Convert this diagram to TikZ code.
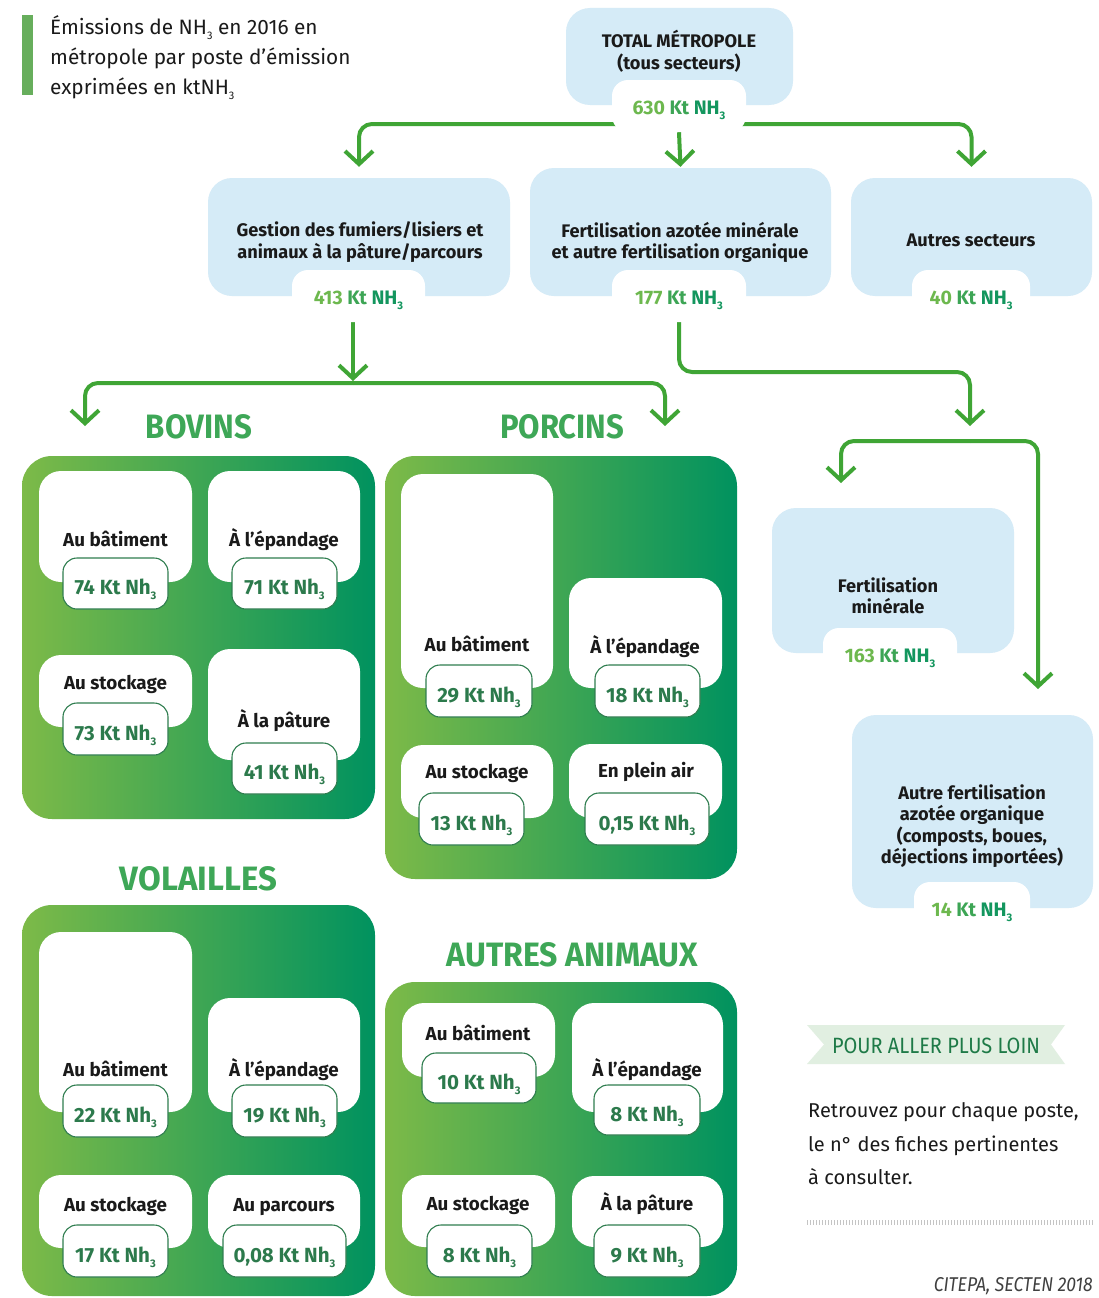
\documentclass[tikz,border=0pt]{standalone}
\usepackage{graphicx}
\usepackage{fontspec}
\setmainfont{Fira Sans}
\newfontfamily\firamed{Fira Sans}
\newfontfamily\firalight{Fira Sans}
\usetikzlibrary{arrows.meta,backgrounds}

\definecolor{boxblue}{HTML}{D5EBF7}
\definecolor{gL}{HTML}{7DBA48}
\definecolor{gR}{HTML}{00925F}
\definecolor{conng}{HTML}{3FA535}
\definecolor{tabline}{HTML}{2F7D4F}
\definecolor{valdk}{HTML}{2C7A4C}
\definecolor{vl}{HTML}{6DB84E}
\definecolor{vm}{HTML}{3DA555}
\definecolor{vd}{HTML}{13965E}
\definecolor{headg}{HTML}{3EA757}
\definecolor{barg}{HTML}{67AE5C}
\definecolor{ribbon}{HTML}{E1EFE1}
\definecolor{ribtxt}{HTML}{1E7A47}
\definecolor{txt}{HTML}{1A1A1A}
\definecolor{ticks}{HTML}{C4C4C4}

\newcommand\subs{\raisebox{-5pt}{\fontsize{11}{11}\selectfont 3}}
\newcommand\kt[1]{#1 Kt Nh\subs}
\newcommand\bval[1]{\textcolor{vl}{#1} \textcolor{vm}{Kt} \textcolor{vd}{NH\subs}}

\tikzset{
  bluebox/.style={fill=boxblue, rounded corners=24pt, inner sep=0pt},
  bluetab/.style={fill=white, rounded corners=16pt, inner sep=0pt, text height=16pt, text depth=0pt,
    font=\fontsize{19.5}{20}\selectfont\bfseries},
  bluetxt/.style={align=center, text=txt, font=\fontsize{18.2}{21.5}\selectfont\bfseries, inner sep=0pt},
  panel/.style={left color=gL, right color=gR, rounded corners=30pt, inner sep=0pt},
  cardbox/.style={fill=white, rounded corners=22pt, inner sep=0pt},
  cardtxt/.style={text=txt, font=\fontsize{18.8}{20}\selectfont\bfseries, inner sep=0pt},
  valtab/.style={fill=white, draw=tabline, line width=1.1pt, rounded corners=14pt, inner sep=0pt,
    text=valdk, text height=22pt, text depth=0pt, font=\fontsize{20.5}{20}\selectfont\bfseries},
  conn/.style={draw=conng, line width=4pt, rounded corners=13pt, -{Straight Barb[length=13pt,width=28pt]}},
  heading/.style={text=headg, inner sep=0pt},
}

% style, x1, y1, x2, y2, name
\newcommand\rect[6]{\node[#1, minimum width={#4-#2}, minimum height={#5-#3}] (#6) at ({(#2+#4)/2},{(#3+#5)/2}) {};}
% style, x1, y1, x2, y2, name, text
\newcommand\rectt[7]{\node[#1, minimum width={#4-#2}, minimum height={#5-#3}] (#6) at ({(#2+#4)/2},{(#3+#5)/2}) {#7};}
% name, x1, y1, x2, y2, label, lx, baseline
\newcommand\card[8]{\rect{cardbox}{#2}{#3}{#4}{#5}{#1}\node[cardtxt, anchor=base] (#1l) at (#7,#8) {#6};}
% name, x1, y1, x2, y2, value
\newcommand\vtab[6]{\rectt{valtab}{#2}{#3}{#4}{#5}{#1}{\kt{#6}}}

\begin{document}
\begin{tikzpicture}[x=1pt,y=-1pt]
\useasboundingbox (0,0) rectangle (1098,1298);
\begin{pgfonlayer}{background}
\fill[white] (0,0) rectangle (1098,1298);
\end{pgfonlayer}

% title
\fill[barg] (22,15) rectangle (33,95);
\node[anchor=west, align=left, text=txt, font=\firamed\fontsize{20.8}{30}\selectfont, inner sep=0pt] (title) at (50,57.5)
  {Émissions de NH\subs{} en 2016 en\\métropole par poste d’émission\\exprimées en ktNH\subs};

% blue boxes
\rect{bluebox}{566}{8}{793}{105}{top}
\node[bluetxt] (topl) at (679,51) {TOTAL MÉTROPOLE\\(tous secteurs)};
\rectt{bluetab}{612}{80}{746}{132}{toptab}{\bval{630}}

\rect{bluebox}{208}{178}{510}{296}{gest}
\node[bluetxt] (gestl) at (360,242) {Gestion des fumiers/lisiers et\\animaux à la pâture/parcours};
\rectt{bluetab}{292}{270}{425}{322}{gtab}{\bval{413}}

\rect{bluebox}{530}{168}{831}{296}{fert}
\node[bluetxt] (fertl) at (680,242.5) {Fertilisation azotée minérale\\et autre fertilisation organique};
\rectt{bluetab}{612}{270}{746}{322}{ftab}{\bval{177}}

\rect{bluebox}{851}{178}{1092}{296}{autsec}
\node[bluetxt, anchor=base] (autsecl) at (971,246) {Autres secteurs};
\rectt{bluetab}{912}{270}{1030}{322}{stab}{\bval{40}}

\rect{bluebox}{772}{508}{1014}{653}{fmin}
\node[bluetxt] (fminl) at (888,596) {Fertilisation\\minérale};
\rectt{bluetab}{823}{628}{957}{680}{mtab}{\bval{163}}

\rect{bluebox}{852}{715}{1093}{908}{forg}
\node[bluetxt] (forgl) at (972,826) {Autre fertilisation\\azotée organique\\(composts, boues,\\déjections importées)};
\rectt{bluetab}{914}{882}{1030}{934}{otab}{\bval{14}}

% headings
\node[heading] (hbov) at (199,427) {\resizebox{106pt}{24pt}{\bfseries BOVINS}};
\node[heading] (hpor) at (562,427) {\resizebox{124pt}{24pt}{\bfseries PORCINS}};
\node[heading] (hvol) at (198.5,879) {\resizebox{157pt}{24pt}{\bfseries VOLAILLES}};
\node[heading] (haut) at (572.5,955) {\resizebox{251pt}{24pt}{\bfseries AUTRES ANIMAUX}};

% panels
\rect{panel}{22}{456}{375}{819}{bov}
\rect{panel}{385}{456}{737}{879}{por}
\rect{panel}{22}{905}{375}{1296}{vol}
\rect{panel}{385}{982}{737}{1296}{aut}

% BOVINS
\card{b1}{39}{471}{192}{582}{Au bâtiment}{115.5}{546}
\card{b2}{208}{471}{360}{582}{À l’épandage}{284}{546}
\card{b3}{39}{655}{192}{727}{Au stockage}{115.5}{689}
\card{b4}{208}{649}{360}{760}{À la pâture}{284}{727.5}
\vtab{b1v}{63}{558}{168}{609}{74}
\vtab{b2v}{232}{558}{337}{609}{71}
\vtab{b3v}{63}{703}{168}{755}{73}
\vtab{b4v}{232}{743}{337}{794}{41}

% PORCINS
\card{p1}{401}{474}{553}{688}{Au bâtiment}{477}{651.5}
\card{p2}{569}{578}{722}{688}{À l’épandage}{645}{653}
\card{p3}{401}{745}{553}{818}{Au stockage}{477}{778}
\card{p4}{569}{744}{722}{818}{En plein air}{646}{777}
\vtab{p1v}{426}{665}{532}{717}{29}
\vtab{p2v}{595}{665}{700}{717}{18}
\vtab{p3v}{419}{793}{524}{845}{13}
\vtab{p4v}{585}{793}{709}{845}{0,15}

% VOLAILLES
\card{v1}{39}{932}{192}{1112}{Au bâtiment}{115.5}{1076}
\card{v2}{208}{998}{360}{1112}{À l’épandage}{284}{1076}
\card{v3}{39}{1175}{192}{1248}{Au stockage}{115.5}{1211}
\card{v4}{208}{1175}{360}{1248}{Au parcours}{284}{1211}
\vtab{v1v}{63}{1085}{168}{1137}{22}
\vtab{v2v}{232}{1085}{337}{1137}{19}
\vtab{v3v}{63}{1225}{168}{1277}{17}
\vtab{v4v}{223}{1225}{346}{1277}{0,08}

% AUTRES ANIMAUX
\card{a1}{402}{1003}{555}{1077}{Au bâtiment}{478}{1040}
\card{a2}{572}{1003}{723}{1112}{À l’épandage}{647}{1076.5}
\card{a3}{402}{1175}{555}{1247}{Au stockage}{478}{1210}
\card{a4}{572}{1176}{723}{1247}{À la pâture}{647}{1210}
\vtab{a1v}{422}{1053}{536}{1103}{10}
\vtab{a2v}{594}{1085}{700}{1135}{8}
\vtab{a3v}{427}{1225}{532}{1277}{8}
\vtab{a4v}{594}{1225}{700}{1277}{9}

% right bottom block
\fill[ribbon] (807,1025) -- (1065,1025) -- (1051,1044.5) -- (1065,1064) -- (807,1064) -- (824,1044.5) -- cycle;
\node[inner sep=0pt, text=ribtxt] (plus) at (936,1045.5) {\resizebox{208pt}{15.5pt}{POUR ALLER PLUS LOIN}};
\node[anchor=west, align=left, inner sep=0pt, text=txt, font=\firalight\fontsize{20}{33.5}\selectfont] (retro) at (808,1144)
  {Retrouvez pour chaque poste,\\le n° des fiches pertinentes\\à consulter.};
\draw[ticks, line width=5pt, dash pattern=on 1pt off 2pt] (807,1222) -- (1093,1222);
\node[anchor=east, inner sep=0pt, text=black!75] (src) at (1093,1286.5) {\resizebox{159pt}{14pt}{\firalight\itshape CITEPA, SECTEN 2018}};

% connectors
\coordinate (j1) at (679,124);
\coordinate (j2) at (353,383);
\coordinate (tB) at (85,426);
\coordinate (tP) at (665,426);
\coordinate (c3) at (970,372);
\coordinate (t3) at (970,426);
\coordinate (j4) at (970,441);
\coordinate (t4a) at (841,483);
\coordinate (t4b) at (1038,689);
\begin{pgfonlayer}{background}
\draw[conn, shorten >=11pt] (j1) -| (gest.north);
\draw[conn, shorten >=11pt] (j1) -| (autsec.north);
\draw[conn, shorten >=1pt] (toptab.south) -- (fert.north);
\draw[conn, shorten >=2pt] (gtab.south -| j2) -- (j2);
\draw[conn] (j2) -| (tB);
\draw[conn] (j2) -| (tP);
\draw[conn] (ftab.south) |- (c3) -- (t3);
\draw[conn] (j4) -| (t4a);
\draw[conn] (j4) -| (t4b);
\end{pgfonlayer}
\end{tikzpicture}
\end{document}
